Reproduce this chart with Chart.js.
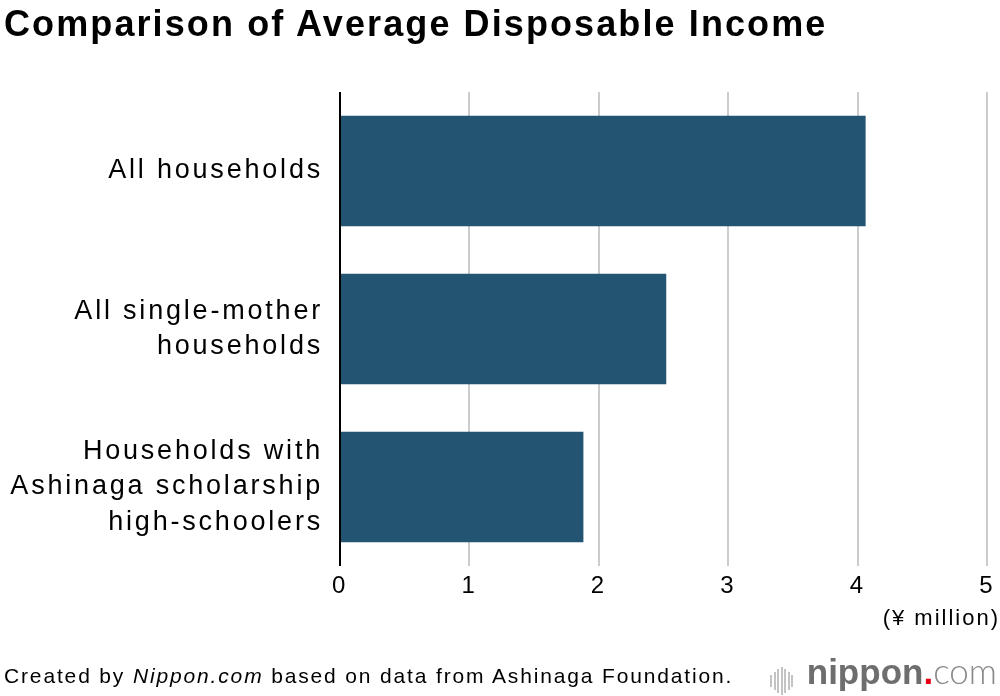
<!DOCTYPE html>
<html>
<head>
<meta charset="utf-8">
<script src="https://cdn.jsdelivr.net/npm/chart.js@4/dist/chart.umd.min.js"></script>
<style>
  html, body { margin: 0; padding: 0; background: #fff; }
  body { width: 1000px; height: 696px; position: relative; overflow: hidden;
         font-family: "Liberation Sans", Arial, Helvetica, sans-serif; }
  #title { position: absolute; left: 4px; top: 3px; font-size: 36px; font-weight: bold; color: #000; letter-spacing: 2.1px; white-space: nowrap; }
  #unit { position: absolute; right: 0px; top: 605px; font-size: 22px; color: #000; letter-spacing: 2px; }
  #source { position: absolute; left: 4px; top: 664px; font-size: 21px; color: #000; letter-spacing: 1.85px; white-space: nowrap; }
  #logo { position: absolute; right: 3px; top: 650px; font-size: 35px; color: #777; white-space: nowrap; line-height: 40px; }
  #logo .bars { display: inline-block; vertical-align: middle; margin-right: 12px; height: 28px; position: relative; top: -3px; }
  #logo .bars span { display: inline-block; width: 2px; background: #c4c4c4; margin-right: 1.5px; vertical-align: middle; }
  #logo b { font-weight: bold; color: #6e6e6e; }
  #logo .dot { color: #e60012; font-weight: bold; }
  #logo .com { color: #8a8a8a; font-family: Lato, "Open Sans", sans-serif; font-weight: 300; }
  #wrap { position: absolute; left: 0; top: 0; width: 1000px; height: 696px; }
</style>
</head>
<body>
<div id="wrap"><canvas id="chart" width="1000" height="696"></canvas></div>
<div id="title">Comparison of Average Disposable Income</div>
<div id="unit">(¥ million)</div>
<div id="source">Created by <i>Nippon.com</i> based on data from Ashinaga Foundation.</div>
<div id="logo"><span class="bars"><span style="height:12px"></span><span style="height:18px"></span><span style="height:24px"></span><span style="height:28px"></span><span style="height:24px"></span><span style="height:18px"></span><span style="height:12px"></span></span><b>nippon</b><span class="dot">.</span><span class="com">com</span></div>

<script>
// data
var categories = [
    ["All households"],
    ["All single-mother", "households"],
    ["Households with", "Ashinaga scholarship", "high-schoolers"]
];
var incomeValues = [4.06, 2.52, 1.88];
var xTicks = [0, 1, 2, 3, 4, 5];

var barColour = "#235572";

// wider tracking on canvas text, like the original
var spacingPlugin = {
    id: 'spacing',
    beforeDraw: function(chart) {
        chart.ctx.letterSpacing = '2.8px';
    }
};

var ctx = document.getElementById("chart").getContext('2d');

var myChart = new Chart(ctx, {
    type: 'bar',
    data: {
        labels: categories,
        datasets: [{
            label: "Average disposable income",
            data: incomeValues,
            backgroundColor: barColour,
            borderWidth: 0,
            categoryPercentage: 0.7,
            barPercentage: 1.0
        }]
    },
    options: {
        indexAxis: 'y',
        responsive: false,
        animation: false,
        devicePixelRatio: 1,
        layout: {
            padding: { top: 92, right: 12, bottom: 100, left: 0 }
        },
        plugins: {
            legend: { display: false },
            tooltip: { enabled: false }
        },
        scales: {
            x: {
                min: 0,
                max: 5,
                afterBuildTicks: function(axis) {
                    axis.ticks = xTicks.map(function(v) { return { value: v }; });
                },
                afterFit: function(axis) { axis.height = 30; },
                border: { display: false },
                grid: {
                    drawTicks: false,
                    lineWidth: 2,
                    color: function(c) { return c.tick && c.tick.value === 0 ? '#000' : '#cccccc'; }
                },
                ticks: {
                    padding: 6,
                    color: '#000',
                    font: { family: '"Liberation Sans", Arial, sans-serif', size: 24 }
                }
            },
            y: {
                afterFit: function(axis) { axis.width = 340; },
                border: { display: false },
                grid: { display: false, drawTicks: false },
                ticks: {
                    padding: 17,
                    color: '#000',
                    font: { family: '"Liberation Sans", Arial, sans-serif', size: 27, lineHeight: 1.3 }
                }
            }
        }
    },
    plugins: [spacingPlugin]
});
</script>
</body>
</html>
